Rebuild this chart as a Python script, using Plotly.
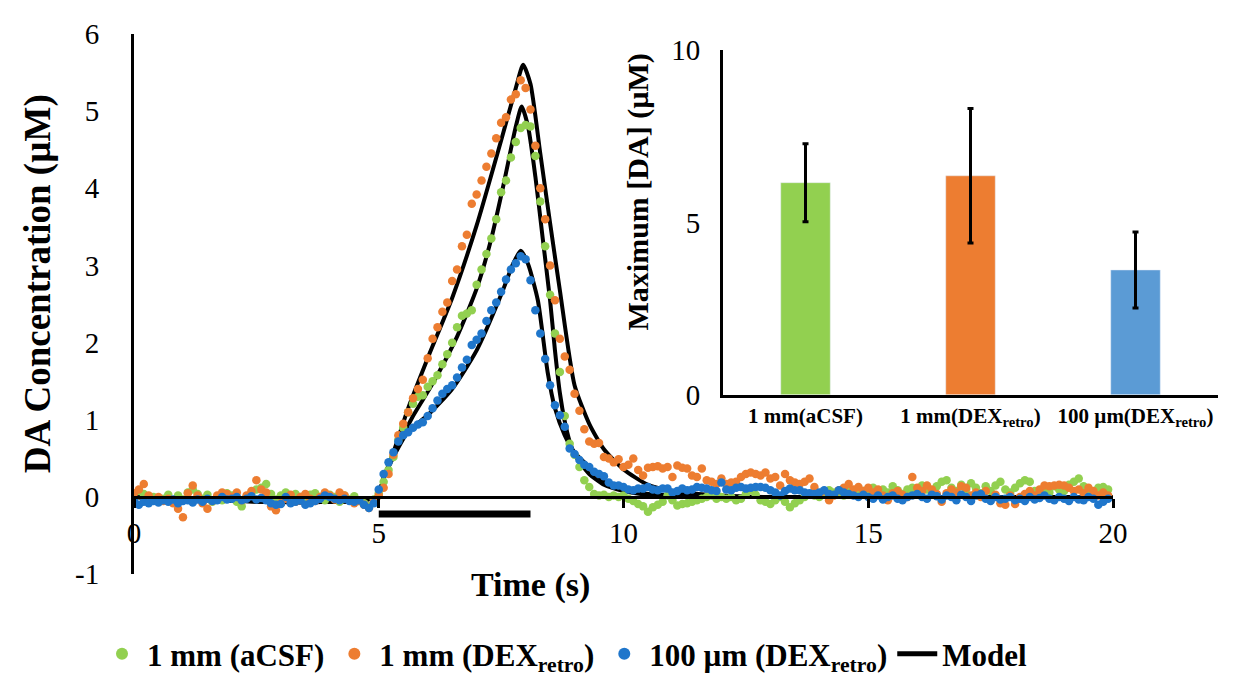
import plotly.graph_objects as go

W, H = 1247, 673
SERIF = "Liberation Serif"

# time base of the recordings (s), 10 samples per second
time_s = [round(i * 0.1, 1) for i in range(200)]

# 1 mm (aCSF)
acsf_1mm = [
    -0.02, 0.08, 0.04, -0.04, 0.00, -0.06, -0.02, 0.03, -0.05, 0.02,
    -0.03, 0.06, 0.10, 0.04, -0.02, 0.03, -0.06, 0.00, -0.04, 0.05,
    0.02, -0.06, -0.12, 0.00, 0.06, 0.10, 0.12, 0.17, 0.04, -0.03,
    0.02, 0.06, -0.02, 0.04, 0.00, -0.05, 0.03, 0.05, 0.00, -0.04,
    0.03, 0.00, -0.06, 0.02, -0.03, 0.01, -0.05, -0.08, -0.12, -0.03,
    0.05, 0.20, 0.35, 0.52, 0.74, 0.90, 1.10, 1.21, 1.30, 1.32,
    1.43, 1.50, 1.58, 1.72, 1.85, 2.00, 2.20, 2.35, 2.38, 2.42,
    2.75, 2.95, 3.15, 3.35, 3.60, 3.95, 4.10, 4.40, 4.60, 4.78,
    4.82, 4.80, 4.42, 3.83, 3.25, 2.62, 2.12, 1.62, 1.05, 0.69,
    0.55, 0.39, 0.22, 0.13, 0.04, 0.02, 0.03, 0.00, 0.02, 0.00,
    0.02, -0.02, -0.05, -0.09, -0.12, -0.19, -0.13, -0.10, -0.06, 0.02,
    -0.04, -0.11, -0.09, -0.08, -0.06, -0.04, -0.02, 0.00, 0.02, -0.02,
    0.00, -0.02, 0.00, -0.04, -0.02, 0.04, 0.09, 0.03, -0.04, -0.06,
    -0.09, -0.04, 0.00, -0.06, -0.13, -0.08, -0.04, 0.00, 0.04, 0.02,
    0.00, 0.04, 0.09, 0.06, 0.04, 0.02, 0.11, 0.06, 0.04, 0.08,
    0.08, 0.12, 0.05, 0.10, 0.06, 0.14, 0.09, 0.04, 0.10, 0.12,
    0.06, 0.15, 0.10, 0.08, 0.14, 0.20, 0.22, 0.12, 0.08, 0.16,
    0.10, 0.18, 0.12, 0.05, 0.14, 0.08, 0.15, 0.20, 0.10, 0.06,
    0.12, 0.18, 0.22, 0.20, 0.08, 0.04, 0.10, 0.06, 0.14, 0.10,
    0.08, 0.16, 0.20, 0.24, 0.14, 0.10, 0.06, 0.12, 0.13, 0.10,
]

# 1 mm (DEX retro)
dex_1mm = [
    0.05, 0.10, 0.17, 0.02, -0.04, 0.00, -0.05, -0.02, -0.08, -0.15,
    -0.26, 0.05, 0.15, 0.02, -0.08, -0.15, -0.05, 0.02, 0.06, 0.04,
    0.00, 0.06, -0.04, 0.02, 0.08, 0.22, 0.10, 0.06, -0.12, -0.17,
    -0.08, -0.02, 0.03, -0.06, 0.00, 0.04, -0.02, -0.05, 0.00, 0.06,
    0.02, -0.03, 0.06, 0.02, -0.04, -0.08, -0.05, -0.10, -0.14, -0.06,
    0.02, 0.12, 0.30, 0.55, 0.80, 0.95, 1.10, 1.28, 1.40, 1.52,
    1.80, 2.05, 2.20, 2.40, 2.52, 2.80, 2.95, 3.25, 3.40, 3.80,
    3.92, 4.10, 4.28, 4.45, 4.65, 4.85, 4.92, 5.15, 5.22, 5.40,
    5.30, 5.02, 4.55, 4.00, 3.60, 3.00, 2.55, 2.05, 1.82, 1.65,
    1.34, 1.12, 0.88, 0.72, 0.69, 0.70, 0.52, 0.50, 0.45, 0.49,
    0.39, 0.42, 0.50, 0.35, 0.28, 0.38, 0.39, 0.40, 0.37, 0.39,
    0.26, 0.41, 0.38, 0.37, 0.28, 0.26, 0.37, 0.22, 0.20, 0.17,
    0.24, 0.17, 0.19, 0.20, 0.26, 0.30, 0.32, 0.30, 0.28, 0.32,
    0.24, 0.26, 0.15, 0.30, 0.22, 0.19, 0.17, 0.20, 0.24, 0.13,
    0.04, 0.08, -0.04, 0.02, 0.09, 0.12, 0.17, 0.10, 0.13, 0.08,
    0.12, 0.06, 0.10, 0.02, -0.04, 0.05, 0.08, 0.03, 0.00, 0.26,
    0.12, 0.08, 0.15, 0.10, 0.04, -0.06, 0.05, 0.10, 0.06, 0.14,
    0.12, 0.02, 0.06, 0.00, 0.08, -0.04, 0.03, -0.08, -0.10, 0.02,
    -0.09, 0.00, 0.04, 0.08, 0.02, 0.10, 0.15, 0.14, 0.15, 0.16,
    0.15, 0.12, 0.08, 0.10, 0.05, 0.12, 0.08, 0.02, 0.06, 0.02,
]

# 100 um (DEX retro)
dex_100um = [
    -0.04, -0.10, -0.06, -0.08, -0.05, -0.07, -0.04, -0.06, -0.03, -0.08,
    -0.05, -0.04, -0.07, -0.03, -0.06, -0.02, -0.05, -0.04, 0.00, -0.03,
    -0.02, 0.00, -0.04, -0.02, 0.01, -0.03, -0.01, -0.04, -0.08, -0.10,
    -0.09, 0.00, -0.08, -0.06, -0.04, -0.10, -0.08, -0.05, -0.02, 0.02,
    0.00, -0.02, -0.04, -0.02, -0.05, -0.06, -0.04, -0.10, -0.14, -0.08,
    0.10, 0.30, 0.45, 0.58, 0.72, 0.80, 0.84, 0.90, 0.94, 0.97,
    1.05, 1.15, 1.25, 1.34, 1.40, 1.45, 1.55, 1.68, 1.78, 1.97,
    2.04, 2.12, 2.28, 2.42, 2.52, 2.66, 2.82, 2.95, 3.03, 3.12,
    3.08, 2.81, 2.42, 2.12, 1.79, 1.45, 1.19, 1.06, 0.91, 0.63,
    0.56, 0.48, 0.42, 0.39, 0.33, 0.30, 0.27, 0.19, 0.15, 0.15,
    0.13, 0.10, 0.09, 0.11, 0.11, 0.13, 0.10, 0.09, 0.11, 0.11,
    0.06, 0.08, 0.11, 0.09, 0.10, 0.13, 0.12, 0.11, 0.09, 0.08,
    0.19, 0.10, 0.09, 0.12, 0.13, 0.11, 0.12, 0.13, 0.13, 0.12,
    0.09, 0.06, 0.02, 0.08, 0.11, 0.09, 0.09, 0.06, 0.05, 0.04,
    0.06, 0.09, 0.04, 0.03, 0.09, 0.06, 0.04, 0.02, 0.00, 0.03,
    0.00, -0.02, 0.02, -0.03, 0.00, 0.02, -0.02, -0.04, 0.00, 0.02,
    0.04, 0.00, -0.02, 0.03, 0.01, -0.03, 0.02, 0.00, -0.04, 0.03,
    0.00, -0.05, 0.02, 0.04, -0.02, -0.05, 0.00, -0.03, -0.02, 0.00,
    -0.04, -0.02, -0.05, 0.00, -0.03, -0.01, 0.02, -0.02, -0.04, 0.00,
    -0.02, -0.05, 0.00, -0.03, -0.04, 0.00, -0.02, -0.10, -0.06, -0.02,
]

# model fits
model_dex_1mm_t = [0, 4.95, 5.1, 5.3, 5.6, 6.0, 6.5, 7.0, 7.5, 7.8, 7.95, 8.1, 8.3, 8.5,
                   8.7, 9.0, 9.3, 9.6, 10.0, 10.5, 11.0, 12.0, 13.0, 20]
model_dex_1mm = [0, 0, 0.25, 0.58, 1.15, 1.80, 2.58, 3.52, 4.62, 5.30, 5.60, 5.35, 4.45, 3.55,
                 2.68, 1.45, 0.95, 0.62, 0.36, 0.16, 0.08, 0.02, 0, 0]
model_acsf_t = [0, 4.95, 5.1, 5.4, 5.7, 6.1, 6.6, 7.0, 7.3, 7.55, 7.8, 7.92, 8.05, 8.2, 8.35,
                8.5, 8.6, 8.7, 8.8, 8.9, 9.0, 9.3, 9.6, 10.0, 10.5, 11.0, 12.0, 20]
model_acsf = [0, 0, 0.25, 0.68, 1.05, 1.47, 2.08, 2.70, 3.35, 4.05, 4.80, 5.06, 4.80, 4.15, 3.35,
              2.55, 1.90, 1.35, 0.98, 0.72, 0.55, 0.30, 0.16, 0.08, 0.03, 0.01, 0, 0]
model_100um_t = [0, 4.95, 5.1, 5.3, 5.6, 6.0, 6.5, 7.0, 7.5, 7.75, 7.9, 8.05, 8.25, 8.45, 8.6,
                 8.8, 9.0, 9.3, 9.6, 10.0, 10.5, 11.0, 12.0, 20]
model_100um = [0, 0, 0.25, 0.52, 0.85, 1.06, 1.40, 1.90, 2.62, 3.03, 3.19, 3.02, 2.55, 1.62, 1.15,
               0.80, 0.58, 0.39, 0.20, 0.10, 0.04, 0.02, 0, 0]

# stimulation window (s)
stim_window = [5.0, 8.1]
stim_level = -0.22

# inset: maximum [DA]
bar_labels = ["1 mm(aCSF)", "1 mm(DEX<sub>retro</sub>)", "100 µm(DEX<sub>retro</sub>)"]
bar_means = [6.15, 6.35, 3.62]
bar_errors = [1.13, 1.95, 1.10]

y_ticks = [-1, 0, 1, 2, 3, 4, 5, 6]
y_tick_text = ["-1", "0", "1", "2", "3", "4", "5", "6"]

GREEN, ORANGE, BLUE = "#92D050", "#ED7D31", "#1F76CB"
BAR_COLORS = ["#92D050", "#ED7D31", "#5B9BD5"]


def px(x):
    return x / W


def py(y):
    return 1 - y / H


fig = go.Figure()

# models
for i, (mt, mv) in enumerate([(model_dex_1mm_t, model_dex_1mm),
                              (model_acsf_t, model_acsf),
                              (model_100um_t, model_100um)]):
    fig.add_trace(go.Scatter(x=mt, y=mv, mode="lines", name="Model",
                             line=dict(color="black", width=4, shape="spline", smoothing=0.6),
                             legendgroup="model", showlegend=(i == 0), legendrank=4))

fig.add_trace(go.Scatter(x=stim_window, y=[stim_level, stim_level], mode="lines",
                         line=dict(color="black", width=7), showlegend=False))

for name, vals, col, rank in [("1 mm (aCSF)", acsf_1mm, GREEN, 1),
                              ("1 mm (DEX<sub>retro</sub>)", dex_1mm, ORANGE, 2),
                              ("100 µm (DEX<sub>retro</sub>)", dex_100um, BLUE, 3)]:
    fig.add_trace(go.Scatter(x=time_s, y=vals, mode="markers", name=name,
                             marker=dict(color=col, size=8.5), legendrank=rank))

# inset bars
fig.add_trace(go.Bar(x=bar_labels, y=bar_means, width=0.3, marker_color=BAR_COLORS,
                     error_y=dict(type="data", array=bar_errors, color="black",
                                  thickness=3, width=3),
                     xaxis="x2", yaxis="y2", showlegend=False))

y_dom = [py(568), py(26)]
y_zero = y_dom[0] + (y_dom[1] - y_dom[0]) / 7

fig.update_layout(
    width=W, height=H,
    margin=dict(l=0, r=0, t=0, b=0),
    paper_bgcolor="white", plot_bgcolor="white",
    font=dict(family=SERIF, color="black", size=29),
    xaxis=dict(domain=[px(126), px(1105)], range=[0, 20], anchor="free", position=y_zero,
               showline=True, linecolor="black", linewidth=3,
               ticks="outside", ticklen=9, tickwidth=3, tickcolor="black",
               tickvals=[0, 5, 10, 15, 20], ticklabelstandoff=0,
               showgrid=False, zeroline=False, automargin=False),
    yaxis=dict(domain=y_dom, range=[-1, 6], showline=True, linecolor="black", linewidth=3,
               tickvals=y_ticks, ticktext=y_tick_text, ticks="", ticklabelstandoff=26,
               showgrid=False, zeroline=False, automargin=False),
    xaxis2=dict(domain=[px(715), px(1210)], anchor="y2", showline=True, linecolor="black",
                linewidth=3, ticks="", showgrid=False, automargin=False, tickangle=0,
                tickfont=dict(size=21, weight="bold")),
    yaxis2=dict(domain=[py(388), py(42)], anchor="x2", range=[0, 10], tickvals=[0, 5, 10],
                showline=True, linecolor="black", linewidth=3, ticks="",
                ticklabelstandoff=14, showgrid=False, zeroline=False, automargin=False,
                tickfont=dict(size=29)),
    legend=dict(orientation="h", x=px(557), xanchor="center", y=py(648), yanchor="middle",
                font=dict(size=31, weight="bold"), itemwidth=40, itemsizing="constant",
                bgcolor="rgba(0,0,0,0)"),
    showlegend=True,
)

fig.add_annotation(text="DA Concentration (µM)", textangle=-90, x=px(30), y=py(277),
                   xref="paper", yref="paper", xanchor="center", yanchor="middle",
                   showarrow=False, font=dict(size=37, weight="bold"))
fig.add_annotation(text="Time (s)", x=px(522), y=py(579), xref="paper", yref="paper",
                   xanchor="center", yanchor="middle",
                   showarrow=False, font=dict(size=34, weight="bold"))
fig.add_annotation(text="Maximum [DA] (µM)", textangle=-90, x=px(630), y=py(185),
                   xref="paper", yref="paper", xanchor="center", yanchor="middle",
                   showarrow=False, font=dict(size=30, weight="bold"))

fig.write_html("out.html")
